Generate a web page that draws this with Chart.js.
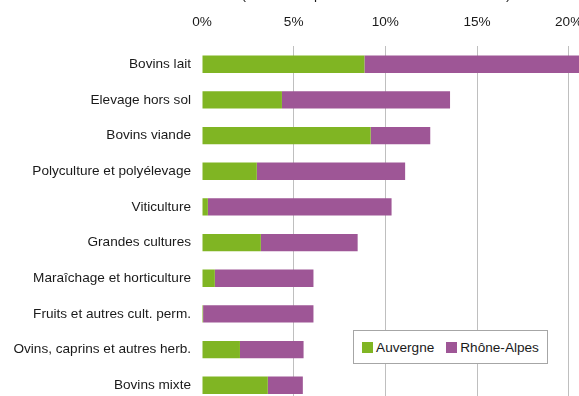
<!DOCTYPE html>
<html lang="fr">
<head>
<meta charset="utf-8">
<script src="https://cdn.jsdelivr.net/npm/chart.js@4.4.1/dist/chart.umd.min.js"></script>
<style>
  html, body { margin: 0; padding: 0; background: #fff; overflow: hidden; width: 579px; height: 396px; }
  body { position: relative; font-family: 'Liberation Sans', Arial, sans-serif; }
  #wrap { position: absolute; left: 0; top: -30px; width: 752px; height: 440px; }
  #legend {
    position: absolute; left: 353px; top: 330px; width: 193px; height: 32px;
    border: 1px solid #a6a6a6; background: #fff;
    display: flex; align-items: center; justify-content: center;
    font-size: 13.6px; color: #1a1a1a;
  }
  #legend .item { display: flex; align-items: center; margin: 0 6px; }
  #legend .swatch { width: 11px; height: 11px; margin-right: 3px; }
</style>
</head>
<body>
<div id="wrap"><canvas id="otexChart" width="752" height="440"></canvas></div>
<div id="legend"></div>
<script>
// OTEX categories and share of each region (%)
const categories = [
  'Bovins lait',
  'Elevage hors sol',
  'Bovins viande',
  'Polyculture et polyélevage',
  'Viticulture',
  'Grandes cultures',
  'Maraîchage et horticulture',
  'Fruits et autres cult. perm.',
  'Ovins, caprins et autres herb.',
  'Bovins mixte'
];
const auvergne   = [8.86, 4.36, 9.20, 2.99, 0.32, 3.21, 0.70, 0.06, 2.07, 3.59];
const rhoneAlpes = [12.6, 9.17, 3.25, 8.09, 10.02, 5.28, 5.38, 6.02, 3.47, 1.91];
const seriesNames = ['Auvergne', 'Rhône-Alpes'];
const seriesColors = ['#80b523', '#9e5696'];

Chart.defaults.font.family = "'Liberation Sans', Arial, sans-serif";
Chart.defaults.font.size = 13.6;
Chart.defaults.color = '#1a1a1a';

const otexChart = new Chart(document.getElementById('otexChart').getContext('2d'), {
  type: 'bar',
  data: {
    labels: categories,
    datasets: [
      { label: seriesNames[0], data: auvergne, backgroundColor: seriesColors[0], barPercentage: 0.485, categoryPercentage: 1 },
      { label: seriesNames[1], data: rhoneAlpes, backgroundColor: seriesColors[1], barPercentage: 0.485, categoryPercentage: 1 }
    ]
  },
  options: {
    indexAxis: 'y',
    responsive: false,
    animation: false,
    layout: { padding: { top: 16.8, bottom: 6.9, left: 0, right: 0 } },
    plugins: {
      legend: { display: false },
      tooltip: { enabled: false },
      title: {
        display: true,
        text: '(en % de la production brute standard totale)',
        padding: 0,
        font: { size: 13.6, weight: 'normal' }
      }
    },
    scales: {
      x: {
        position: 'top',
        stacked: true,
        min: 0,
        max: 30,
        ticks: { stepSize: 5, padding: 16, maxRotation: 0, autoSkip: false, callback: v => v + '%' },
        grid: {
          drawTicks: false,
          color: ctx => (ctx.tick && ctx.tick.value === 0) ? 'rgba(0,0,0,0)' : '#bfbfbf'
        },
        border: { display: false },
        afterFit(scale) {
          scale.height = 43.3;
          scale.paddingLeft = 0;
          scale.paddingRight = 0;
        }
      },
      y: {
        stacked: true,
        ticks: { padding: 11 },
        grid: { display: false, drawTicks: false },
        border: { display: false },
        afterFit(scale) {
          scale.width = 202;
          scale.paddingTop = 0;
          scale.paddingBottom = 0;
        }
      }
    }
  }
});

// legend box sitting over the plot
const legend = document.getElementById('legend');
otexChart.data.datasets.forEach(ds => {
  const item = document.createElement('div');
  item.className = 'item';
  item.innerHTML = '<span class="swatch" style="background:' + ds.backgroundColor + '"></span><span>' + ds.label + '</span>';
  legend.appendChild(item);
});
</script>
</body>
</html>
